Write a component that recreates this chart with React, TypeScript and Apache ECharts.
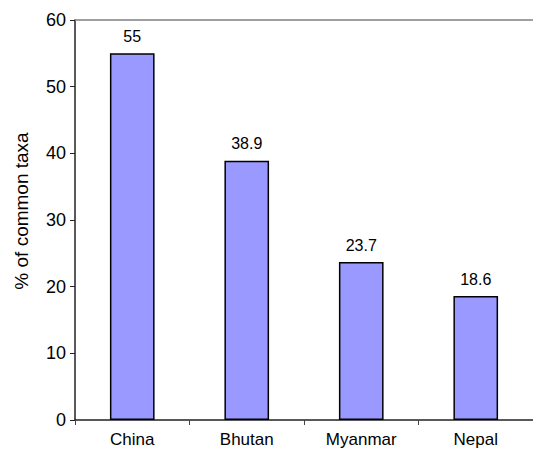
import React, { useEffect, useRef } from "react";
import * as echarts from "echarts";

const categories = ["China", "Bhutan", "Myanmar", "Nepal"];
const values = [55, 38.9, 23.7, 18.6];
const yAxisName = "% of common taxa";

export default function App() {
  const ref = useRef<HTMLDivElement>(null);
  useEffect(() => {
    const chart = echarts.init(ref.current!, null, { renderer: "svg" });
    chart.setOption({
      animation: false,
      grid: { left: 75, right: -2, top: 20, bottom: 34, containLabel: false },
      graphic: [
        {
          type: "text",
          x: 21,
          y: 211,
          rotation: Math.PI / 2,
          style: {
            text: yAxisName,
            fill: "#000",
            font: "19px 'Liberation Sans', Arial",
            align: "center",
            verticalAlign: "middle",
          },
        },
      ],
      xAxis: [
        {
          type: "category",
          data: categories,
          axisLine: { lineStyle: { color: "#222", width: 1.5 } },
          axisTick: { show: true, alignWithLabel: false, length: 5, lineStyle: { color: "#444" } },
          axisLabel: { color: "#000", fontFamily: "Liberation Sans, Arial", fontSize: 17, margin: 11 },
        },
        {
          type: "category",
          data: categories,
          position: "top",
          axisLine: { lineStyle: { color: "#808080", width: 1.5 } },
          axisTick: { show: false },
          axisLabel: { show: false },
        },
      ],
      yAxis: {
        type: "value",
        min: 0,
        max: 60,
        interval: 10,
        axisLine: { show: true, lineStyle: { color: "#222", width: 1.5 } },
        axisTick: { show: true, length: 5, lineStyle: { color: "#222" } },
        axisLabel: { color: "#000", fontFamily: "Liberation Sans, Arial", fontSize: 18, margin: 9 },
        splitLine: { show: false },
      },
      series: [
        {
          type: "bar",
          data: values,
          barWidth: "39%",
          itemStyle: { color: "#9999FF", borderColor: "#000", borderWidth: 1.5 },
          label: {
            show: true,
            position: "top",
            distance: 9,
            color: "#000",
            fontFamily: "Liberation Sans, Arial",
            fontSize: 16,
          },
        },
      ],
    });
    return () => chart.dispose();
  }, []);
  return (
    <div
      ref={ref}
      style={{ position: "fixed", left: 0, top: 0, width: 533, height: 454, background: "#fff" }}
    />
  );
}
